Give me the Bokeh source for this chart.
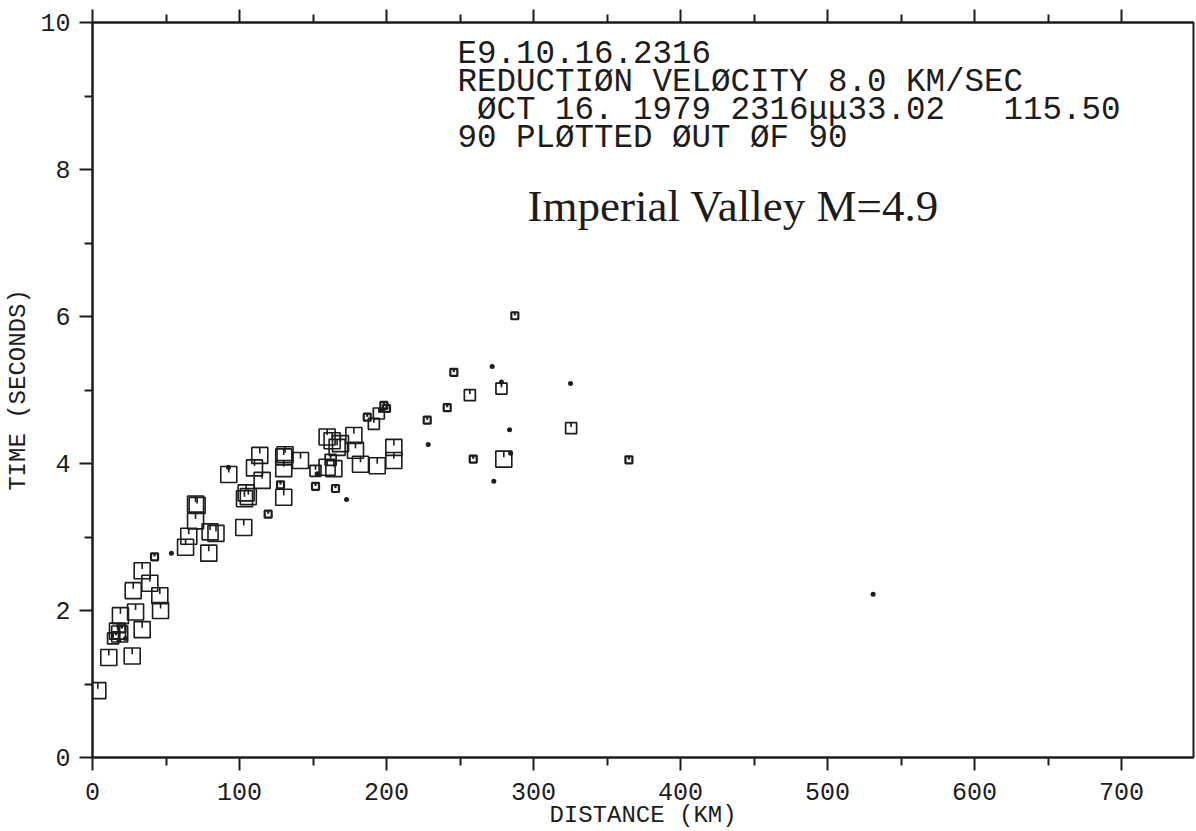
import numpy as np
from bokeh.plotting import figure
from bokeh.models import Range1d, LinearAxis, FixedTicker, Label, CustomLabelingPolicy
from bokeh.embed import file_html
from bokeh.resources import INLINE

# ---------------- data (distance km, reduced time s) ----------------
large_dist = [3.6, 11.1, 27.0, 17.0, 18.5, 33.8, 19.0, 29.3, 46.3, 45.8, 27.7, 39.0, 33.8,
              63.3, 65.5, 79.1, 80.0, 84.0, 70.1, 71.2, 70.1, 92.7, 102.9, 103.4, 104.5,
              110.2, 113.8, 115.4, 130.1, 130.1, 130.1, 131.0, 141.5, 159.6, 163.0, 166.4,
              159.6, 164.2, 177.8, 178.9, 182.3, 193.7, 205.0, 205.0, 279.8, 168.7, 106.0]
large_time = [0.91, 1.36, 1.38, 1.72, 1.68, 1.74, 1.93, 1.98, 2.00, 2.20, 2.27, 2.37, 2.54,
              2.86, 3.01, 2.78, 3.07, 3.05, 3.22, 3.43, 3.45, 3.85, 3.13, 3.52, 3.60,
              3.94, 4.11, 3.77, 4.09, 3.93, 3.54, 4.12, 4.04, 4.36, 4.31, 4.22,
              3.95, 3.93, 4.38, 4.18, 3.99, 3.97, 4.22, 4.04, 4.06, 4.27, 3.55]

medium_dist = [14.0, 151.7, 194.8, 191.4, 278.2, 256.7, 325.6, 162.0]
medium_time = [1.62, 3.90, 4.68, 4.54, 5.02, 4.93, 4.48, 4.05]

small_dist = [16.0, 42.2, 119.5, 127.9, 151.7, 165.3, 287.3, 245.8, 241.3, 227.7, 259.0,
              364.9, 198.2, 186.9, 20.0, 200.0]
small_time = [1.66, 2.73, 3.31, 3.71, 3.69, 3.66, 6.01, 5.24, 4.76, 4.59, 4.06,
              4.05, 4.79, 4.63, 1.75, 4.75]

dot_dist = [18.0, 22.4, 53.7, 152.8, 172.8, 271.9, 278.2, 325.2, 228.4, 283.7, 284.4,
            273.0, 531.0, 92.5, 196.0]
dot_time = [1.60, 1.62, 2.78, 3.86, 3.51, 5.32, 5.11, 5.09, 4.26, 4.46, 4.14,
            3.76, 2.22, 3.95, 4.72]

x_ticks = [0, 100, 200, 300, 400, 500, 600, 700]
x_minor = [50, 150, 250, 350, 450, 550, 650, 750]
y_ticks = [0, 2, 4, 6, 8, 10]
y_minor = [1, 3, 5, 7, 9]

NB = "\u00a0"
header_lines = [
    "E9.10.16.2316",
    "REDUCTI\u00d8N VEL\u00d8CITY 8.0 KM/SEC",
    NB + "\u00d8CT 16. 1979 2316\u03bc\u03bc33.02" + NB * 3 + "115.50",
    "90 PL\u00d8TTED \u00d8UT \u00d8F 90",
]
event_title = "Imperial Valley M=4.9"
x_title = "DISTANCE (KM)"
y_title = "TIME (SECONDS)"

# ---------------- layout ----------------
W, H = 1196, 831
LEFT, RIGHT, TOP, BOTTOM = 92, 3, 22, 74
frame_w = W - LEFT - RIGHT
frame_h = H - TOP - BOTTOM
px_per_km = 1.47
x_max = frame_w / px_per_km
px_per_s = frame_h / 10.0

INK = "#1c1c1c"
MONO = "Liberation Mono"

p = figure(width=W, height=H, x_range=Range1d(0, x_max), y_range=Range1d(0, 10),
           output_backend="svg", toolbar_location=None, title=None,
           min_border_left=LEFT, min_border_right=RIGHT, min_border_top=TOP,
           min_border_bottom=BOTTOM, x_axis_location=None, y_axis_location=None)
p.xgrid.visible = False
p.ygrid.visible = False
p.background_fill_color = "white"
p.border_fill_color = "white"
p.outline_line_color = INK
p.outline_line_width = 2


def style_axis(ax):
    ax.axis_line_color = INK
    ax.axis_line_width = 2
    ax.major_tick_line_color = INK
    ax.major_tick_line_width = 2
    ax.minor_tick_line_color = INK
    ax.minor_tick_line_width = 2
    ax.major_tick_in = 0
    ax.minor_tick_in = 0
    ax.major_tick_out = 13
    ax.minor_tick_out = 8
    ax.major_label_text_font = MONO
    ax.major_label_text_font_size = "25px"
    ax.major_label_text_color = INK
    ax.major_label_text_font_style = "normal"
    ax.axis_label_text_font = MONO
    ax.axis_label_text_font_size = "24px"
    ax.axis_label_text_font_style = "normal"
    ax.axis_label_text_color = INK


xb = LinearAxis(ticker=FixedTicker(ticks=x_ticks, minor_ticks=x_minor))
style_axis(xb)
xb.major_label_standoff = 12
xb.axis_label = x_title
xb.axis_label_standoff = -1
p.add_layout(xb, "below")

# top frame edge: same ticks, no labels drawn
xt = LinearAxis(ticker=FixedTicker(ticks=x_ticks, minor_ticks=x_minor),
                major_label_policy=CustomLabelingPolicy(code="return new Set()"))
style_axis(xt)
xt.major_label_text_font_size = "1px"
xt.major_label_standoff = 0
p.add_layout(xt, "above")

yl = LinearAxis(ticker=FixedTicker(ticks=y_ticks, minor_ticks=y_minor))
style_axis(yl)
yl.major_label_standoff = 9
yl.axis_label = y_title
yl.axis_label_standoff = 5
p.add_layout(yl, "left")

# ---------------- markers ----------------
def squares(xs, ys, size, lw, tick_frac):
    xs = np.asarray(xs, float)
    ys = np.asarray(ys, float)
    p.scatter(xs, ys, marker="square", size=size, fill_color=None,
              line_color=INK, line_width=lw)
    top = ys + (size / 2.0) / px_per_s
    bot = top - tick_frac * size / px_per_s
    p.segment(x0=xs, y0=top, x1=xs, y1=bot, line_color=INK, line_width=lw)

squares(large_dist, large_time, 16, 1.6, 0.38)
squares(medium_dist, medium_time, 11, 1.7, 0.4)
squares(small_dist, small_time, 7, 2.2, 0.45)
p.scatter(dot_dist, dot_time, marker="circle", size=5, fill_color=INK, line_color=None)

# ---------------- texts ----------------
line_left_px = 457
base_px = [54, 82, 110, 138]
for txt, bpx in zip(header_lines, base_px):
    p.add_layout(Label(x=(line_left_px - LEFT) / px_per_km, y=(H - BOTTOM - bpx) / px_per_s,
                       text=txt, text_font=MONO, text_font_size="32.5px",
                       text_color=INK, text_baseline="alphabetic", text_align="left"))

p.add_layout(Label(x=(527 - LEFT) / px_per_km, y=(H - BOTTOM - 205) / px_per_s,
                   text=event_title, text_font="Liberation Serif", text_font_size="45px",
                   text_color=INK, text_baseline="alphabetic", text_align="left"))

open("out.html", "w").write(file_html(p, INLINE))
